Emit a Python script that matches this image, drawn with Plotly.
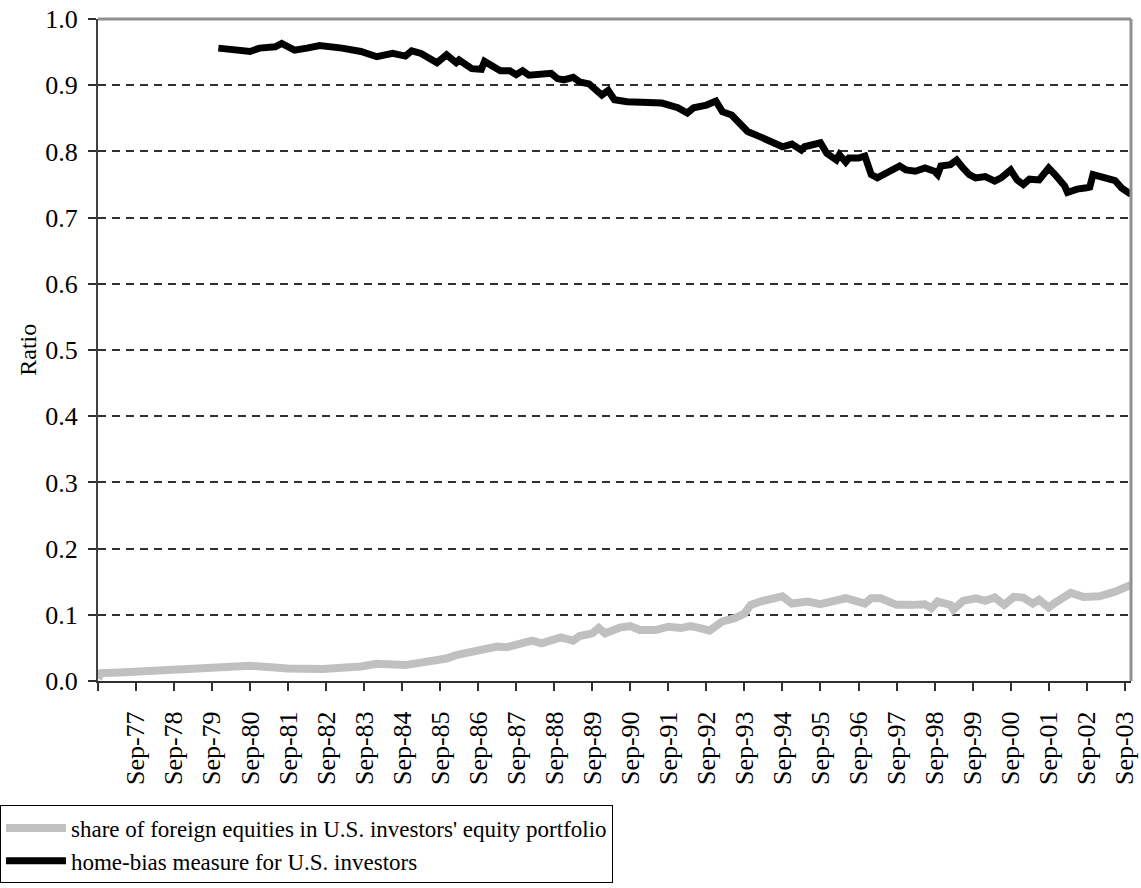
import plotly.graph_objects as go

# ---- data ----
share_months = ["1976-09", "1976-10", "1977-04", "1978-04", "1979-02", "1979-12", "1980-09", "1981-09",
                "1982-08", "1983-08", "1984-01", "1984-10", "1985-03", "1985-08", "1985-11", "1986-02",
                "1986-07", "1986-12", "1987-03", "1987-06", "1987-11", "1988-02", "1988-05", "1988-08",
                "1988-11", "1989-03", "1989-05", "1989-09", "1989-11", "1990-01", "1990-06", "1990-09",
                "1990-12", "1991-05", "1991-09", "1992-01", "1992-04", "1992-07", "1992-10", "1993-02",
                "1993-06", "1993-09", "1993-11", "1994-02", "1994-06", "1994-09", "1994-12", "1995-05",
                "1995-09", "1996-02", "1996-05", "1996-11", "1997-01", "1997-04", "1997-09", "1998-02",
                "1998-06", "1998-08", "1998-10", "1999-02", "1999-03", "1999-06", "1999-10", "2000-01",
                "2000-04", "2000-07", "2000-10", "2001-01", "2001-04", "2001-06", "2001-09", "2001-11",
                "2002-04", "2002-08", "2003-01", "2003-06", "2003-11"]
share_values = [0.004, 0.012, 0.013, 0.016, 0.019, 0.023, 0.023, 0.019,
                0.018, 0.022, 0.026, 0.024, 0.027, 0.033, 0.034, 0.039,
                0.044, 0.047, 0.052, 0.051, 0.057, 0.061, 0.057, 0.060,
                0.066, 0.061, 0.068, 0.072, 0.080, 0.072, 0.081, 0.083,
                0.077, 0.077, 0.082, 0.080, 0.083, 0.080, 0.076, 0.090,
                0.095, 0.102, 0.115, 0.120, 0.125, 0.128, 0.117, 0.120,
                0.116, 0.122, 0.125, 0.117, 0.125, 0.125, 0.115, 0.115,
                0.116, 0.110, 0.120, 0.115, 0.108, 0.121, 0.125, 0.121,
                0.126, 0.115, 0.127, 0.126, 0.117, 0.123, 0.111, 0.118,
                0.133, 0.127, 0.128, 0.135, 0.145]

bias_months = ["1979-11", "1980-03", "1980-09", "1980-12", "1981-05", "1981-07", "1981-11", "1982-03",
               "1982-07", "1983-02", "1983-08", "1984-01", "1984-06", "1984-10", "1984-12", "1985-03",
               "1985-08", "1985-11", "1986-02", "1986-03", "1986-07", "1986-10", "1986-11", "1987-04",
               "1987-07", "1987-09", "1987-11", "1988-01", "1988-05", "1988-08", "1988-10", "1988-12",
               "1989-03", "1989-05", "1989-08", "1989-10", "1989-12", "1990-02", "1990-04", "1990-08",
               "1990-12", "1991-07", "1991-12", "1992-03", "1992-05", "1992-09", "1992-12", "1993-02",
               "1993-05", "1993-08", "1993-10", "1994-02", "1994-07", "1994-09", "1994-12", "1995-03",
               "1995-04", "1995-09", "1995-11", "1996-02", "1996-03", "1996-05", "1996-06", "1996-09",
               "1996-11", "1997-01", "1997-03", "1997-05", "1997-07", "1997-10", "1997-12", "1998-03",
               "1998-06", "1998-09", "1998-10", "1998-11", "1999-02", "1999-04", "1999-06", "1999-08",
               "1999-10", "2000-01", "2000-04", "2000-06", "2000-09", "2000-11", "2001-01", "2001-03",
               "2001-06", "2001-07", "2001-09", "2001-11", "2001-12", "2002-02", "2002-03", "2002-06",
               "2002-09", "2002-10", "2002-11", "2003-01", "2003-04", "2003-06", "2003-08", "2003-11"]
bias_values = [0.956, 0.953, 0.951, 0.956, 0.958, 0.963, 0.953, 0.956,
               0.960, 0.956, 0.951, 0.943, 0.948, 0.944, 0.952, 0.948,
               0.934, 0.946, 0.934, 0.938, 0.925, 0.924, 0.936, 0.922,
               0.922, 0.916, 0.922, 0.915, 0.918, 0.918, 0.910, 0.908,
               0.912, 0.905, 0.902, 0.895, 0.885, 0.892, 0.878, 0.875,
               0.875, 0.873, 0.866, 0.858, 0.866, 0.870, 0.876, 0.860,
               0.855, 0.842, 0.830, 0.822, 0.812, 0.807, 0.811, 0.802,
               0.807, 0.813, 0.797, 0.787, 0.795, 0.784, 0.790, 0.790,
               0.793, 0.765, 0.760, 0.765, 0.770, 0.778, 0.772, 0.770,
               0.775, 0.770, 0.765, 0.778, 0.780, 0.787, 0.775, 0.765,
               0.760, 0.762, 0.755, 0.760, 0.772, 0.757, 0.750, 0.758,
               0.757, 0.762, 0.775, 0.765, 0.760, 0.748, 0.738, 0.743,
               0.745, 0.746, 0.765, 0.763, 0.758, 0.756, 0.745, 0.735]

tick_years = list(range(1977, 2004))
tick_vals = ["1976-09-01"] + [f"{y}-09-01" for y in tick_years]
tick_text = [""] + [f"Sep-{y % 100:02d}" for y in tick_years]
y_ticks = [i / 10 for i in range(11)]
y_text = [f"{v:.1f}" for v in y_ticks]

FONT = "Liberation Serif, Times New Roman, serif"

fig = go.Figure()
fig.add_trace(go.Scatter(
    x=share_months, y=share_values, mode="lines",
    name="share of foreign equities in U.S. investors' equity portfolio",
    line=dict(color="#c0c0c0", width=8),
))
fig.add_trace(go.Scatter(
    x=bias_months, y=bias_values, mode="lines",
    name="home-bias measure for U.S. investors",
    line=dict(color="#000000", width=7),
))

fig.update_layout(
    width=1141, height=888,
    margin=dict(l=98, r=10, t=19, b=207, autoexpand=False),
    paper_bgcolor="white", plot_bgcolor="white",
    font=dict(family=FONT, size=25, color="black"),
    showlegend=True,
    legend=dict(
        x=-0.0949, xanchor="left", y=-0.188, yanchor="top",
        bordercolor="black", borderwidth=1, bgcolor="white",
        font=dict(family=FONT, size=23, color="black"),
        itemwidth=60, tracegroupgap=0,
    ),
    xaxis=dict(
        type="date", range=["1976-09-01", "2003-11-01"],
        tickmode="array", tickvals=tick_vals, ticktext=tick_text,
        tickangle=-90, ticks="outside", ticklen=8, tickwidth=1.5, tickcolor="#303030",
        ticklabelstandoff=10,
        showgrid=False, zeroline=False,
        showline=True, linecolor="#303030", linewidth=2,
        tickfont=dict(family=FONT, size=26, color="black"),
    ),
    yaxis=dict(
        range=[0, 1.0], tickmode="array", tickvals=y_ticks, ticktext=y_text,
        ticks="outside", ticklen=8, tickwidth=1.5, tickcolor="#303030",
        ticklabelstandoff=5,
        showgrid=True, gridcolor="#303030", gridwidth=1.5, griddash="8px,6px",
        zeroline=False,
        showline=True, linecolor="#404040", linewidth=2,
        tickfont=dict(family=FONT, size=26, color="black"),
    ),
    annotations=[dict(
        text="Ratio", xref="paper", yref="paper", x=-0.068, y=0.5,
        textangle=-90, showarrow=False, xanchor="center", yanchor="middle",
        font=dict(family=FONT, size=24, color="black"),
    )],
    shapes=[
        dict(type="line", xref="paper", yref="paper", x0=0, x1=1, y0=1, y1=1,
             line=dict(color="#909090", width=3)),
        dict(type="line", xref="paper", yref="paper", x0=1, x1=1, y0=0, y1=1,
             line=dict(color="#909090", width=3)),
    ],
)

fig.write_html(
    "out.html",
    config={"displayModeBar": False},
    post_script="document.body.style.margin='0';document.body.style.overflow='hidden';",
)
